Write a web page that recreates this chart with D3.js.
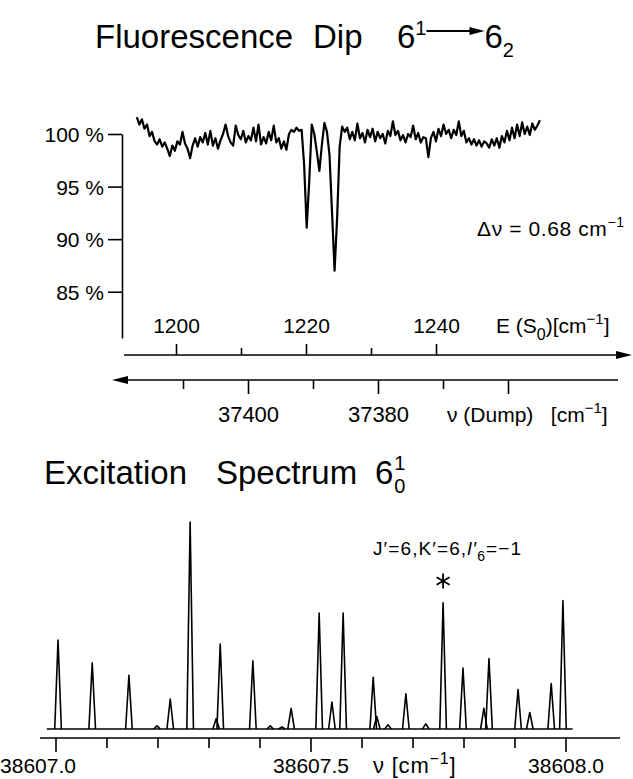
<!DOCTYPE html>
<html>
<head>
<meta charset="utf-8">
<script src="https://cdn.jsdelivr.net/npm/d3@7"></script>
<style>
body{margin:0;background:#fff;}
text,tspan{font-family:'Liberation Sans',Arial,sans-serif;fill:#000;}
</style>
</head>
<body>
<script>
let dipStart = 1193.9, dipStep = 0.39;
let dipValues = [101.6,100.9,101.4,100.5,100.9,99.8,100.2,99.3,99.0,99.5,98.8,
99.2,98.6,97.9,98.9,98.4,99.3,99.0,100.2,99.1,98.6,
97.7,98.9,99.6,98.8,99.7,99.2,100.1,99.0,100.3,98.9,
99.6,98.6,99.4,100.0,100.9,99.8,99.2,98.9,100.8,99.9,
99.5,100.3,99.2,99.8,99.4,100.6,99.3,100.9,99.0,99.7,
99.1,100.2,99.4,100.8,99.2,99.6,98.6,99.3,98.5,100.0,
100.4,100.2,100.6,100.3,100.4,97.0,91.1,95.5,100.9,100.0,
98.3,96.5,99.0,101.05,100.2,98.0,92.5,87.0,92.0,98.8,
100.7,100.2,100.6,99.5,100.2,99.4,101.0,99.6,100.1,99.2,
100.4,99.7,100.5,99.3,100.2,99.6,100.0,99.1,100.3,99.8,
101.2,99.9,100.3,99.4,99.9,99.2,100.0,99.7,100.8,99.5,
100.1,99.2,99.7,99.6,97.8,99.6,100.2,99.3,100.5,99.8,
100.9,100.0,100.4,99.6,100.4,99.9,101.2,99.8,100.3,99.2,
99.6,99.0,99.5,98.9,99.4,98.8,99.3,99.1,98.7,99.5,
98.9,99.6,98.7,99.8,99.2,100.3,99.4,100.6,99.6,100.9,
99.8,101.1,100.0,100.7,99.9,101.0,100.4,100.8,101.3];
let pctTicks = [100,95,90,85];
let eMajor = [1200,1220,1240], eMinor = [1210,1230];
let dumpMajor = [37400,37380,37360], dumpMinor = [37410,37390,37370], dumpLabels = [37400,37380];

// data: excitation spectrum peaks (position cm-1, relative height)
let peakPos = [38607.004,38607.071,38607.143,38607.198,38607.224,38607.263,38607.314,38607.322,38607.386,38607.420,
38607.443,38607.461,38607.516,38607.541,38607.563,38607.622,38607.629,38607.651,38607.686,38607.725,
38607.759,38607.798,38607.839,38607.849,38607.906,38607.929,38607.971,38607.994];
let peakHeight = [43,32,26,1.5,14.5,100,5,41,33,1.5,
1,10,56,13,56,25,6,2,17,2.5,
61,29.5,10,34,19,8,22,62];
let excRange = [38606.982,38608.013];
let excTicks = [38607.0,38607.1,38607.2,38607.3,38607.4,38607.5,38607.6,38607.7,38607.8,38607.9,38608.0];
let excLabels = [38607.0,38607.5,38608.0];
let starPeak = 38607.759;

// svg
let width = 633, height = 779;
let svg = d3.select('body').append('svg').attr('width',width).attr('height',height);

// scales
let xE = d3.scaleLinear().domain([1200,1240]).range([176.5,436.5]);
let xDump = d3.scaleLinear().domain([37400,37380]).range([248.5,378.5]);
let yDip = d3.scaleLinear().domain([80.6,100]).range([338,134]);
let xExc = d3.scaleLinear().domain([38607.0,38608.0]).range([56,566]);
let yExc = d3.scaleLinear().domain([0,100]).range([729,522]);

// ---- top title
svg.append('text').attr('x',95).attr('y',48).attr('font-size',33).text('Fluorescence');
svg.append('text').attr('x',313).attr('y',48).attr('font-size',33).text('Dip');
let t1b = svg.append('text').attr('x',397).attr('y',48).attr('font-size',33).text('6');
t1b.append('tspan').attr('font-size',20).attr('dy',-13).text('1');
let arrX0 = 397 + t1b.node().getComputedTextLength(), arrX1 = arrX0 + 58, arrY = 31;
svg.append('line').attr('x1',arrX0).attr('x2',arrX1-10).attr('y1',arrY).attr('y2',arrY).attr('stroke','#000').attr('stroke-width',1.8);
svg.append('path').attr('d',`M${arrX1},${arrY}L${arrX1-15},${arrY-4}L${arrX1-15},${arrY+4}Z`).attr('fill','#000');
let t1c = svg.append('text').attr('x',arrX1).attr('y',48).attr('font-size',33).text('6');
t1c.append('tspan').attr('font-size',20).attr('dy',9).text('2');

// ---- dip trace
let dipLine = d3.line().x((d,i)=>xE(dipStart+i*dipStep)).y(d=>yDip(d));
svg.append('path').datum(dipValues).attr('d',dipLine).attr('fill','none').attr('stroke','#000')
  .attr('stroke-width',2.2).attr('stroke-linejoin','round');

// y axis
let yAxis = d3.axisLeft(yDip).tickValues(pctTicks).tickSize(14).tickSizeOuter(0).tickPadding(4).tickFormat(d=>d+' %');
let gy = svg.append('g').attr('transform','translate(122,0)').call(yAxis);
gy.attr('font-family',null).attr('font-size',null);
gy.selectAll('path,line').attr('stroke-width',1.6);
gy.selectAll('text').attr('font-size',21).attr('dy','0.36em');

// E(S0) axis with arrow to the right
let eY = 355;
svg.append('line').attr('x1',124).attr('x2',622).attr('y1',eY).attr('y2',eY).attr('stroke','#000').attr('stroke-width',1.6);
svg.append('path').attr('d',`M632,${eY}L616,${eY-4}L616,${eY+4}Z`).attr('fill','#000');
svg.selectAll('.eMaj').data(eMajor).join('line').attr('x1',d=>xE(d)).attr('x2',d=>xE(d)).attr('y1',eY).attr('y2',eY-11).attr('stroke','#000').attr('stroke-width',1.6);
svg.selectAll('.eMin').data(eMinor).join('line').attr('x1',d=>xE(d)).attr('x2',d=>xE(d)).attr('y1',eY).attr('y2',eY-7).attr('stroke','#000').attr('stroke-width',1.6);
svg.selectAll('.eLab').data(eMajor).join('text').attr('x',d=>xE(d)).attr('y',333).attr('text-anchor','middle').attr('font-size',21).text(d=>d);
let eT = svg.append('text').attr('x',496).attr('y',333).attr('font-size',21).style('white-space','pre').text('E (S');
eT.append('tspan').attr('font-size',16).attr('dy',7).text('0');
eT.append('tspan').attr('dy',-7).text(')[cm');
eT.append('tspan').attr('font-size',15).attr('dy',-9).text('−1');
eT.append('tspan').attr('dy',9).text(']');

// nu(Dump) axis with arrow to the left
let dY = 380;
svg.append('line').attr('x1',122).attr('x2',618).attr('y1',dY).attr('y2',dY).attr('stroke','#000').attr('stroke-width',1.6);
svg.append('path').attr('d',`M112,${dY}L128,${dY-4}L128,${dY+4}Z`).attr('fill','#000');
svg.selectAll('.dMaj').data(dumpMajor).join('line').attr('x1',d=>xDump(d)).attr('x2',d=>xDump(d)).attr('y1',dY).attr('y2',dY+14).attr('stroke','#000').attr('stroke-width',1.6);
svg.selectAll('.dMin').data(dumpMinor).join('line').attr('x1',d=>xDump(d)).attr('x2',d=>xDump(d)).attr('y1',dY).attr('y2',dY+9).attr('stroke','#000').attr('stroke-width',1.6);
svg.selectAll('.dLab').data(dumpLabels).join('text').attr('x',d=>xDump(d)).attr('y',422).attr('text-anchor','middle').attr('font-size',22).text(d=>d);
let dT = svg.append('text').attr('x',447).attr('y',422).attr('font-size',21).style('white-space','pre').text('ν (Dump)   [cm');
dT.append('tspan').attr('font-size',15).attr('dy',-9).text('−1');
dT.append('tspan').attr('dy',9).text(']');

// resolution note
let nT = svg.append('text').attr('x',477).attr('y',236).attr('font-size',21).attr('letter-spacing',0.6).style('white-space','pre').text('Δν = 0.68 cm');
nT.append('tspan').attr('font-size',14).attr('dy',-9).text('−1');

// ---- bottom title
svg.append('text').attr('x',44).attr('y',484).attr('font-size',33).text('Excitation');
svg.append('text').attr('x',216).attr('y',484).attr('font-size',33).text('Spectrum');
let t2 = svg.append('text').attr('x',375).attr('y',484).attr('font-size',33).text('6');
let t2w = 375 + t2.node().getComputedTextLength();
svg.append('text').attr('x',t2w+1).attr('y',470).attr('font-size',20).text('1');
svg.append('text').attr('x',t2w+1).attr('y',493).attr('font-size',20).text('0');

// excitation trace: baseline + one spike per peak
let hw = 0.0065;
svg.append('line').attr('x1',xExc(excRange[0])).attr('x2',xExc(excRange[1])).attr('y1',yExc(0)).attr('y2',yExc(0)).attr('stroke','#000').attr('stroke-width',1.6);
let spike = d3.line().x(d=>xExc(d[0])).y(d=>yExc(d[1]));
svg.selectAll('.peak').data(peakPos).join('path').attr('class','peak')
  .attr('d',(d,i)=>spike([[d-hw,0],[d,peakHeight[i]],[d+hw,0]]))
  .attr('fill','none').attr('stroke','#000').attr('stroke-width',1.6).attr('stroke-linejoin','round');

// excitation axis
let aY = 738;
svg.append('line').attr('x1',40).attr('x2',620).attr('y1',aY).attr('y2',aY).attr('stroke','#000').attr('stroke-width',1.6);
svg.selectAll('.xt').data(excTicks).join('line').attr('x1',d=>xExc(d)).attr('x2',d=>xExc(d)).attr('y1',aY)
  .attr('y2',d=>excLabels.includes(d)?aY+14:aY+10).attr('stroke','#000').attr('stroke-width',1.6);
svg.selectAll('.xl').data(excLabels).join('text').attr('x',(d,i)=>xExc(d)+(i==0?-18:0)).attr('y',773)
  .attr('text-anchor','middle').attr('font-size',21).text(d=>d.toFixed(1));
let xT = svg.append('text').attr('x',373).attr('y',773).attr('font-size',22).attr('letter-spacing',0.8).style('white-space','pre').text('ν [cm');
xT.append('tspan').attr('font-size',16).attr('dy',-9).text('−1');
xT.append('tspan').attr('dy',9).text(']');

// annotation of the marked line
let sx = xExc(starPeak), sy = 581, sr = 7.5;
[90,30,150].forEach(a=>{
  let r = a*Math.PI/180;
  svg.append('line').attr('x1',sx-sr*Math.cos(r)).attr('x2',sx+sr*Math.cos(r)).attr('y1',sy-sr*Math.sin(r)).attr('y2',sy+sr*Math.sin(r))
    .attr('stroke','#000').attr('stroke-width',1.8);
});
let aT = svg.append('text').attr('x',373).attr('y',555).attr('font-size',19).attr('letter-spacing',1.1).text('J′=6,K′=6,');
aT.append('tspan').attr('font-style','italic').text('l′');
aT.append('tspan').attr('font-size',14).attr('dy',6).text('6');
aT.append('tspan').attr('dy',-6).text('=−1');
</script>
</body>
</html>
